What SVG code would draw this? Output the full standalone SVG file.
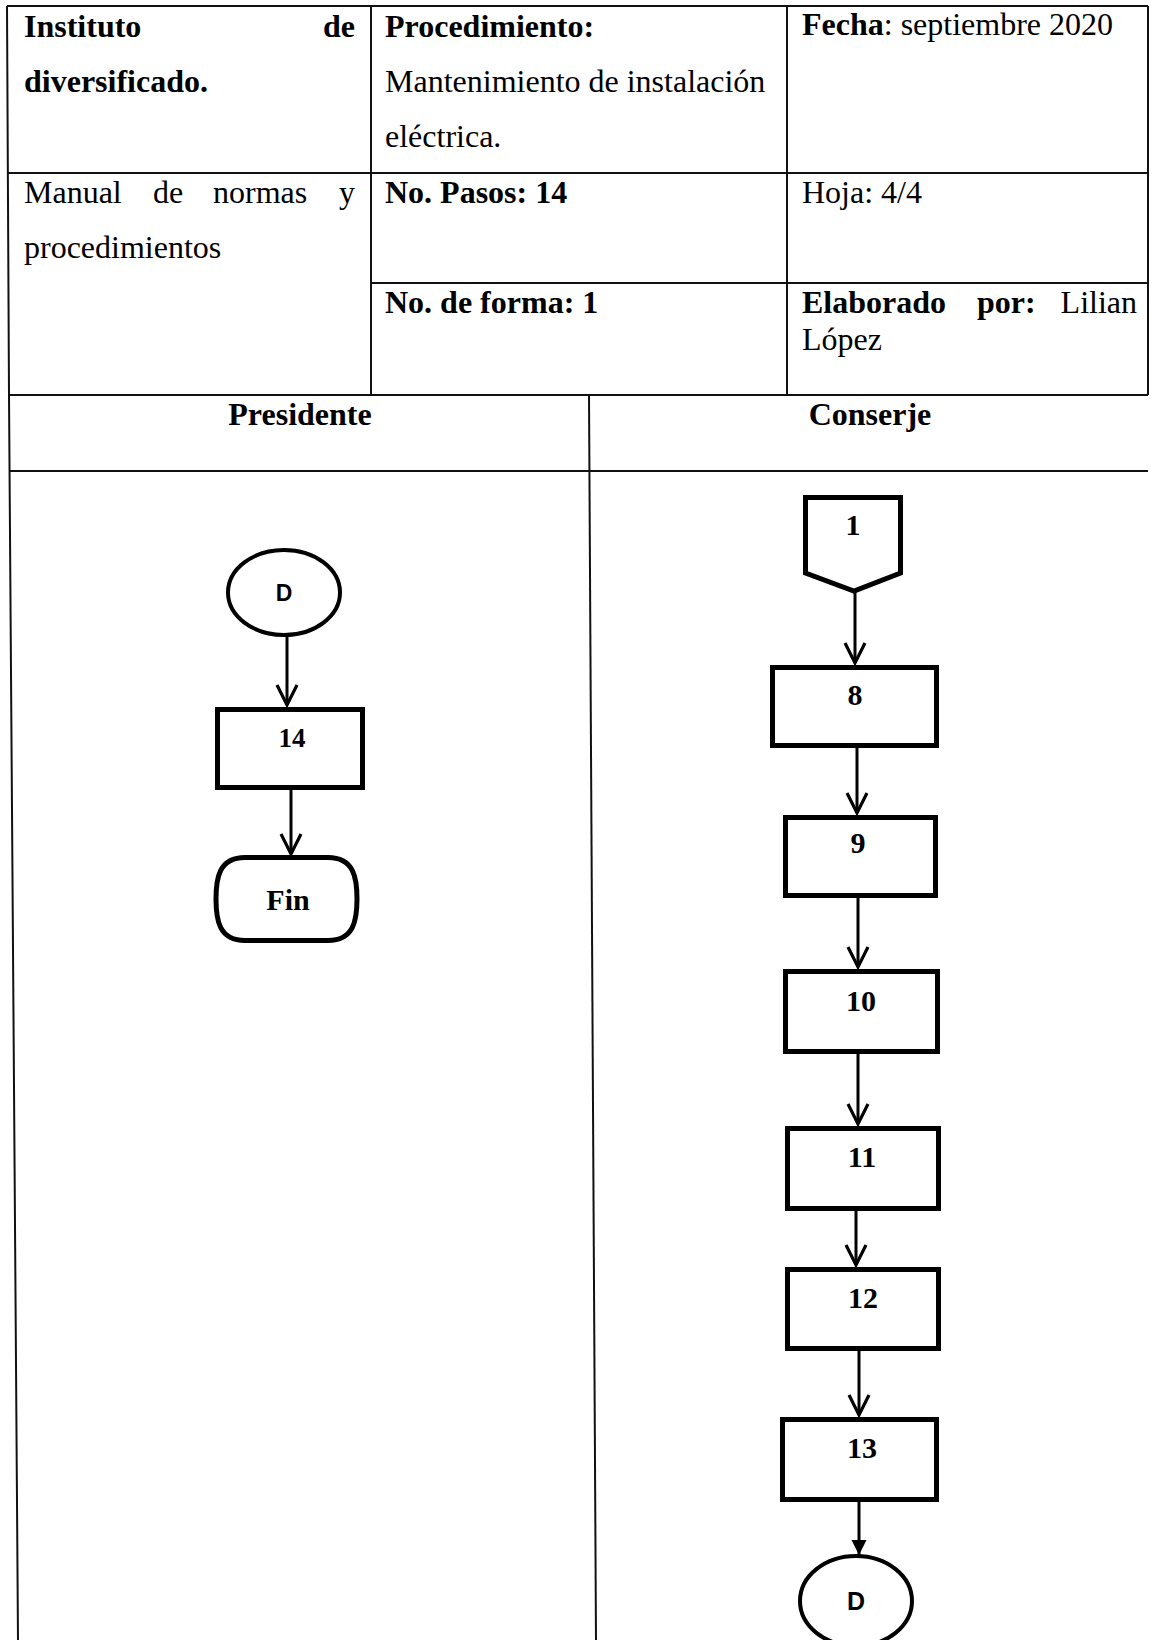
<svg xmlns="http://www.w3.org/2000/svg" width="1151" height="1640" viewBox="0 0 1151 1640">
<style>
.grid{stroke:#111;stroke-width:2;fill:none}
.t{font-family:"Liberation Serif","Times New Roman",serif;font-size:32px;fill:#000}
.b{font-weight:bold}
.shape{fill:#fff;stroke:#000;stroke-width:5;stroke-linejoin:miter}
.ell{fill:#fff;stroke:#000;stroke-width:4}
.lbl{font-family:"Liberation Serif","Times New Roman",serif;font-size:30px;font-weight:bold;text-anchor:middle;fill:#000}
.lblD{font-family:"Liberation Sans",Arial,sans-serif;font-size:23px;font-weight:bold;text-anchor:middle;fill:#000}
.conn{stroke:#000;stroke-width:3;fill:none}
</style>
<defs>
<marker id="vArrow" markerUnits="userSpaceOnUse" viewBox="-24 -13 27 26" markerWidth="27" markerHeight="26" refX="0" refY="0" orient="auto" overflow="visible">
<path d="M-20,-10 L0,0 L-20,10" fill="none" stroke="#000" stroke-width="3.2"/>
</marker>
<marker id="fArrow" markerUnits="userSpaceOnUse" viewBox="-16 -8 17 16" markerWidth="17" markerHeight="16" refX="0" refY="0" orient="auto" overflow="visible">
<path d="M-15,-7.5 L0,0 L-15,7.5 Z" fill="#000"/>
</marker>
</defs>
<rect width="1151" height="1640" fill="#fff"/>

<g id="table">
<line class="grid" x1="7" y1="6" x2="1148" y2="6"/>
<polyline class="grid" points="7,6 9,395 18,1640"/>
<line class="grid" x1="1148" y1="6" x2="1148" y2="395"/>
<line class="grid" x1="371" y1="6" x2="371" y2="395"/>
<line class="grid" x1="787" y1="6" x2="787" y2="395"/>
<line class="grid" x1="8" y1="173" x2="1148" y2="173"/>
<line class="grid" x1="371" y1="283" x2="1148" y2="283"/>
<line class="grid" x1="9" y1="395" x2="1148" y2="395"/>
<line class="grid" x1="9" y1="471" x2="1148" y2="471"/>
<line class="grid" x1="589" y1="395" x2="596" y2="1640"/>

<text class="t b" x="24" y="37">Instituto</text>
<text class="t b" x="355" y="37" text-anchor="end">de</text>
<text class="t b" x="24" y="92">diversificado.</text>
<text class="t b" x="385" y="37">Procedimiento:</text>
<text class="t" x="385" y="92">Mantenimiento de instalación</text>
<text class="t" x="385" y="147">eléctrica.</text>
<text class="t" x="802" y="35"><tspan class="b">Fecha</tspan>: septiembre 2020</text>

<text class="t" x="24" y="203">Manual</text>
<text class="t" x="153" y="203">de</text>
<text class="t" x="213" y="203">normas</text>
<text class="t" x="355" y="203" text-anchor="end">y</text>
<text class="t" x="24" y="258">procedimientos</text>
<text class="t b" x="385" y="203">No. Pasos: 14</text>
<text class="t" x="802" y="203">Hoja: 4/4</text>
<text class="t b" x="385" y="313">No. de forma: 1</text>
<text class="t b" x="802" y="313">Elaborado</text>
<text class="t b" x="977" y="313">por:</text>
<text class="t" x="1137" y="313" text-anchor="end">Lilian</text>
<text class="t" x="802" y="350">López</text>

<text class="t b" x="300" y="425" text-anchor="middle">Presidente</text>
<text class="t b" x="870" y="425" text-anchor="middle">Conserje</text>
</g>

<g id="connectors">
<line class="conn" x1="287" y1="637" x2="287" y2="705" marker-end="url(#vArrow)"/>
<line class="conn" x1="291" y1="790" x2="291" y2="854" marker-end="url(#vArrow)"/>
<line class="conn" x1="855" y1="592" x2="855" y2="663" marker-end="url(#vArrow)"/>
<line class="conn" x1="857" y1="748" x2="857" y2="813" marker-end="url(#vArrow)"/>
<line class="conn" x1="858" y1="898" x2="858" y2="967" marker-end="url(#vArrow)"/>
<line class="conn" x1="858" y1="1054" x2="858" y2="1124" marker-end="url(#vArrow)"/>
<line class="conn" x1="856" y1="1211" x2="856" y2="1265" marker-end="url(#vArrow)"/>
<line class="conn" x1="859" y1="1351" x2="859" y2="1415" marker-end="url(#vArrow)"/>
<line class="conn" x1="859" y1="1502" x2="859" y2="1555" marker-end="url(#fArrow)"/>
</g>

<g id="node-D-top">
<ellipse class="ell" cx="284" cy="592.5" rx="56" ry="42.5"/>
<text class="lblD" x="284" y="601">D</text>
</g>
<g id="node-14">
<rect class="shape" x="217.5" y="709.5" width="145" height="78"/>
<text class="lbl" x="292" y="747" style="font-size:27px">14</text>
</g>
<g id="node-Fin">
<path class="shape" d="M245,857.5 H328 C354,857.5 357,878 357,899 C357,920 354,940.5 328,940.5 H245 C219,940.5 216,920 216,899 C216,878 219,857.5 245,857.5 Z"/>
<text class="lbl" x="288" y="910">Fin</text>
</g>

<g id="node-1">
<polygon class="shape" points="805.5,497.5 900.5,497.5 900.5,573 854,591 805.5,573"/>
<text class="lbl" x="853" y="535">1</text>
</g>
<g id="node-8">
<rect class="shape" x="772.5" y="667.5" width="164" height="78"/>
<text class="lbl" x="855" y="705">8</text>
</g>
<g id="node-9">
<rect class="shape" x="785.5" y="817.5" width="150" height="78"/>
<text class="lbl" x="858" y="853">9</text>
</g>
<g id="node-10">
<rect class="shape" x="785.5" y="971.5" width="152" height="80"/>
<text class="lbl" x="861" y="1011">10</text>
</g>
<g id="node-11">
<rect class="shape" x="787.5" y="1128.5" width="151" height="80"/>
<text class="lbl" x="862" y="1167">11</text>
</g>
<g id="node-12">
<rect class="shape" x="787.5" y="1269.5" width="151" height="79"/>
<text class="lbl" x="863" y="1308">12</text>
</g>
<g id="node-13">
<rect class="shape" x="782.5" y="1419.5" width="154" height="80"/>
<text class="lbl" x="862" y="1458">13</text>
</g>
<g id="node-D-bottom">
<ellipse class="ell" cx="856" cy="1601" rx="56" ry="45"/>
<text class="lblD" x="856" y="1610" style="font-size:25px">D</text>
</g>
</svg>
